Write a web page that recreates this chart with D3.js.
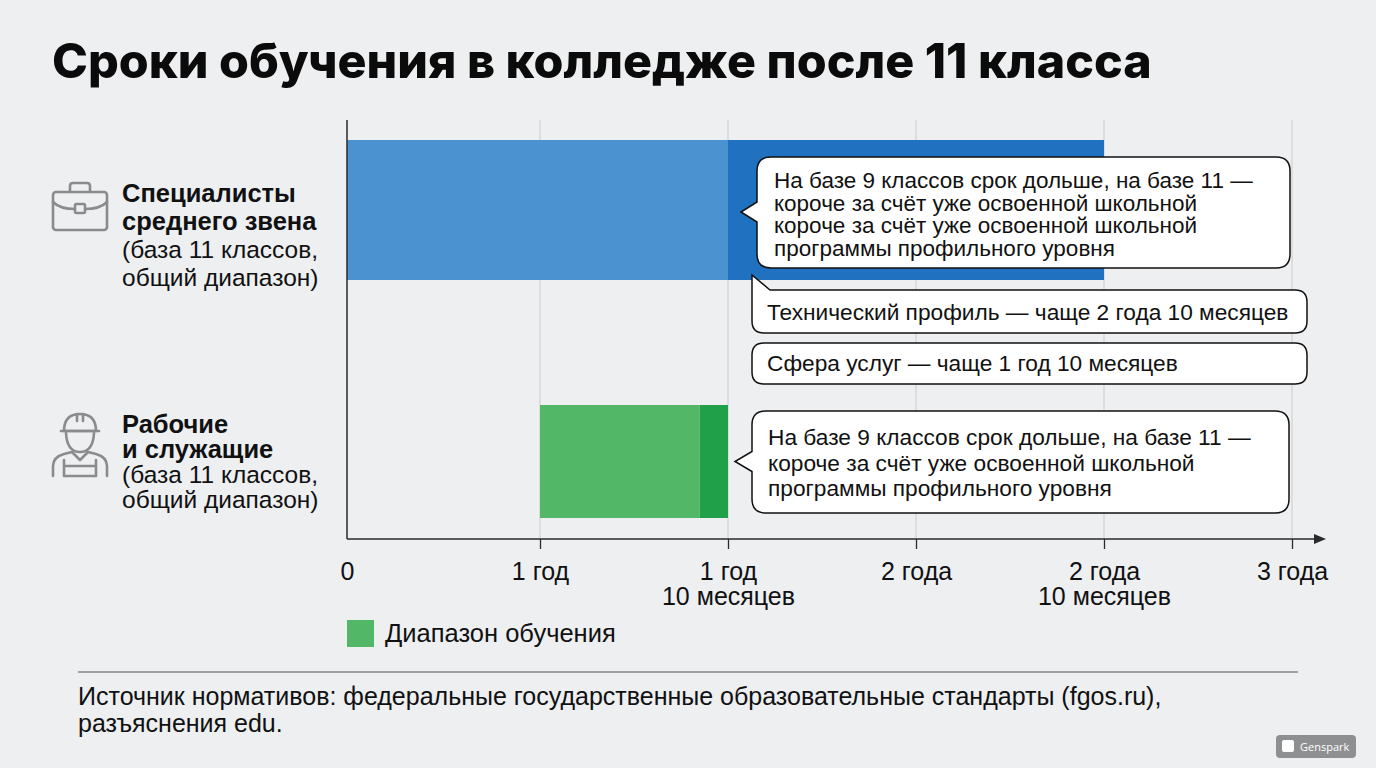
<!DOCTYPE html>
<html>
<head>
<meta charset="utf-8">
<script src="https://cdn.jsdelivr.net/npm/d3@7/dist/d3.min.js"></script>
<style>
  body { margin:0; background:#edeff1; }
  svg { display:block; }
  .body-text { font-family: "Liberation Sans", Arial, sans-serif; fill:#111; }
</style>
</head>
<body>
<svg id="chart"></svg>
<script>
// chart data
var categories = ["Специалисты среднего звена", "Рабочие и служащие"];
var rangeStart = [0, 12];       // months
var rangeEnd = [34, 22];        // months
var accentStart = [22, 20.5];   // darker part of bar starts here
var categoryLines = [
    ["Специалисты", "среднего звена", "(база 11 классов,", "общий диапазон)"],
    ["Рабочие", "и служащие", "(база 11 классов,", "общий диапазон)"]
];
var tickValues = [0, 12, 22, 24, 34, 36];
var tickLabels = [["0"], ["1 год"], ["1 год", "10 месяцев"], ["2 года"], ["2 года", "10 месяцев"], ["3 года"]];
var noteSpecialists = ["На базе 9 классов срок дольше, на базе 11 —",
    "короче за счёт уже освоенной школьной",
    "короче за счёт уже освоенной школьной",
    "программы профильного уровня"];
var noteTech = ["Технический профиль — чаще 2 года 10 месяцев"];
var noteService = ["Сфера услуг — чаще 1 год 10 месяцев"];
var noteWorkers = ["На базе 9 классов срок дольше, на базе 11 —",
    "короче за счёт уже освоенной школьной",
    "программы профильного уровня"];
var legendLabel = "Диапазон обучения";
var titleText = "Сроки обучения в колледже после 11 класса";
var sourceLines = ["Источник нормативов: федеральные государственные образовательные стандарты (fgos.ru),",
    "разъяснения edu."];

// layout
var screen = {width:1376, height:768};
var plot = {left:347, first:540, top:120, bottom:539, step:188};
var colors = {
    light:["#4b92d0", "#52b868"],
    dark:["#2171c1", "#21a04a"],
    grid:"#cfd1d4", axis:"#2a2a2a", icon:"#8a8b8c"
};
var barCenter = [210, 461.5];
var barHeight = [140, 113];

var svg = d3.select("#chart")
    .attr("width", screen.width)
    .attr("height", screen.height);

svg.append("rect")
    .attr("width", screen.width).attr("height", screen.height)
    .attr("fill", "#edeff1");

// title, stretched to the reference width
var title = svg.append("text")
    .attr("x", 52).attr("y", 78)
    .style("font-family", "Inter, 'Open Sans', sans-serif")
    .style("font-weight", 800)
    .style("font-size", "44px")
    .attr("fill", "#0b0b0b")
    .text(titleText);
var tw = title.node().getComputedTextLength();
title.style("font-size", (44 * 1100 / tw) + "px");

// x scale: ticks are evenly spaced although months are not
var xScale = d3.scaleLinear()
    .domain(tickValues)
    .range(tickValues.map(function(d, i) {
        return i === 0 ? plot.left : plot.first + (i - 1) * plot.step;
    }));

// grid lines
svg.append("g").selectAll("line")
    .data(tickValues.slice(1))
    .enter().append("line")
    .attr("x1", function(d) { return xScale(d); })
    .attr("x2", function(d) { return xScale(d); })
    .attr("y1", plot.top)
    .attr("y2", plot.bottom)
    .attr("stroke", colors.grid)
    .attr("stroke-width", 1.2);

// bars: light range + darker accent
var bars = svg.append("g");
categories.forEach(function(c, i) {
    var y0 = barCenter[i] - barHeight[i] / 2;
    bars.append("rect")
        .attr("x", xScale(rangeStart[i]))
        .attr("y", y0)
        .attr("width", xScale(accentStart[i]) - xScale(rangeStart[i]))
        .attr("height", barHeight[i])
        .attr("fill", colors.light[i]);
    bars.append("rect")
        .attr("x", xScale(accentStart[i]))
        .attr("y", y0)
        .attr("width", xScale(rangeEnd[i]) - xScale(accentStart[i]))
        .attr("height", barHeight[i])
        .attr("fill", colors.dark[i]);
});

// y axis line
svg.append("line")
    .attr("x1", plot.left).attr("x2", plot.left)
    .attr("y1", plot.top).attr("y2", plot.bottom)
    .attr("stroke", colors.axis).attr("stroke-width", 1.5);

// x axis
var xAxis = d3.axisBottom(xScale)
    .tickValues(tickValues)
    .tickSize(10)
    .tickSizeOuter(0)
    .tickFormat("");
var axisG = svg.append("g")
    .attr("transform", "translate(0," + plot.bottom + ")")
    .call(xAxis);
axisG.select(".domain").remove();
axisG.selectAll(".tick line")
    .attr("stroke", colors.axis).attr("stroke-width", 1.3)
    .attr("display", function(d) { return d === 0 ? "none" : null; });
axisG.append("line")
    .attr("x1", plot.left).attr("x2", 1318)
    .attr("y1", 0).attr("y2", 0)
    .attr("stroke", colors.axis).attr("stroke-width", 1.5);
axisG.append("path")
    .attr("d", "M1314,-5 L1326,0 L1314,5 Z")
    .attr("fill", colors.axis);

axisG.selectAll(".tick").each(function(d, i) {
    var t = d3.select(this).append("text")
        .attr("class", "body-text")
        .attr("text-anchor", "middle")
        .attr("y", 41)
        .style("font-size", "25px")
        .attr("fill", "#111");
    tickLabels[i].forEach(function(line, k) {
        t.append("tspan").attr("x", 0).attr("dy", k === 0 ? 0 : 25).text(line);
    });
});

// category labels
var labelStarts = [202, 433];
var labelStep = [28, 25];
categories.forEach(function(c, i) {
    var t = svg.append("text")
        .attr("class", "body-text")
        .attr("x", 122).attr("y", labelStarts[i]);
    categoryLines[i].forEach(function(line, k) {
        t.append("tspan")
            .attr("x", 122)
            .attr("dy", k === 0 ? 0 : labelStep[i])
            .style("font-weight", k < 2 ? 700 : 400)
            .style("font-size", k < 2 ? "25.5px" : "24.5px")
            .text(line);
    });
});

// icons
var icons = svg.append("g")
    .attr("fill", "none")
    .attr("stroke", colors.icon)
    .attr("stroke-width", 2.6)
    .attr("stroke-linejoin", "round")
    .attr("stroke-linecap", "round");
// briefcase
icons.append("path").attr("d", "M70,192 L70,186 Q70,183 73,183 L87,183 Q90,183 90,186 L90,192");
icons.append("rect").attr("x", 53).attr("y", 192).attr("width", 54).attr("height", 38).attr("rx", 3);
icons.append("path").attr("d", "M53,202 Q60,209 75,209 M85,209 Q100,209 107,202");
icons.append("rect").attr("x", 75).attr("y", 204).attr("width", 10).attr("height", 9).attr("rx", 1.5);
// worker
icons.append("path").attr("d", "M64,431 Q64,414 80,414 Q96,414 96,431 Z");
icons.append("path").attr("d", "M61,431 L99,431");
icons.append("path").attr("d", "M77,414 L77,421 M83,414 L83,421");
icons.append("path").attr("d", "M66,433 Q67,452 80,452 Q93,452 94,433");
icons.append("path").attr("d", "M53,476 L53,466 Q53,457 64,454 L72,452 L80,460 L88,452 L96,454 Q107,457 107,466 L107,476");
icons.append("path").attr("d", "M64,476 L64,460 M96,476 L96,460 M64,466 L96,466 M64,476 L96,476");

// callouts
function bubble(x, y, w, h, r, tip) {
    var p = "M" + (x + r) + "," + y +
        " L" + (x + w - r) + "," + y + " Q" + (x + w) + "," + y + " " + (x + w) + "," + (y + r) +
        " L" + (x + w) + "," + (y + h - r) + " Q" + (x + w) + "," + (y + h) + " " + (x + w - r) + "," + (y + h) +
        " L" + (x + r) + "," + (y + h) + " Q" + x + "," + (y + h) + " " + x + "," + (y + h - r);
    if (tip) {
        p += " L" + x + "," + (tip.y + 10) + " L" + tip.x + "," + tip.y + " L" + x + "," + (tip.y - 10);
    }
    p += " L" + x + "," + (y + r) + " Q" + x + "," + y + " " + (x + r) + "," + y + " Z";
    return p;
}
function tailBubble(x, y, w, h, r) {
    return "M" + x + "," + (y - 15) + " L" + (x + 18) + "," + y +
        " L" + (x + w - r) + "," + y + " Q" + (x + w) + "," + y + " " + (x + w) + "," + (y + r) +
        " L" + (x + w) + "," + (y + h - r) + " Q" + (x + w) + "," + (y + h) + " " + (x + w - r) + "," + (y + h) +
        " L" + (x + r) + "," + (y + h) + " Q" + x + "," + (y + h) + " " + x + "," + (y + h - r) + " Z";
}
var notes = svg.append("g");
function noteText(lines, x, y, step, size) {
    var t = notes.append("text")
        .attr("class", "body-text")
        .attr("x", x).attr("y", y)
        .style("font-size", size + "px");
    lines.forEach(function(line, k) {
        t.append("tspan").attr("x", x).attr("dy", k === 0 ? 0 : step).text(line);
    });
}
var bx = xScale(22);
notes.append("path")
    .attr("d", bubble(bx + 29, 157, 533, 111, 14, {x:bx + 13, y:barCenter[0] + 2}))
    .attr("fill", "#fff").attr("stroke", "#111").attr("stroke-width", 1.5);
noteText(noteSpecialists, bx + 46, 188, 22.7, 22.5);

notes.append("path")
    .attr("d", tailBubble(bx + 24, 290, 555, 43, 12))
    .attr("fill", "#fff").attr("stroke", "#111").attr("stroke-width", 1.5);
noteText(noteTech, bx + 39, 320, 0, 22.7);

notes.append("path")
    .attr("d", bubble(bx + 24, 343, 555, 41, 12))
    .attr("fill", "#fff").attr("stroke", "#111").attr("stroke-width", 1.5);
noteText(noteService, bx + 39, 371, 0, 22.7);

notes.append("path")
    .attr("d", bubble(bx + 24, 411, 537, 102, 14, {x:bx + 7, y:barCenter[1]}))
    .attr("fill", "#fff").attr("stroke", "#111").attr("stroke-width", 1.5);
noteText(noteWorkers, bx + 40, 445, 25.5, 22.7);

// legend
svg.append("rect")
    .attr("x", 347).attr("y", 620).attr("width", 27).attr("height", 27)
    .attr("fill", colors.light[1]);
svg.append("text")
    .attr("class", "body-text")
    .attr("x", 385).attr("y", 642)
    .style("font-size", "25.5px")
    .text(legendLabel);

// source
svg.append("line")
    .attr("x1", 78).attr("x2", 1298).attr("y1", 672).attr("y2", 672)
    .attr("stroke", "#555").attr("stroke-width", 1.2);
var src = svg.append("text")
    .attr("class", "body-text")
    .attr("x", 78).attr("y", 705)
    .style("font-size", "25px");
sourceLines.forEach(function(line, k) {
    src.append("tspan").attr("x", 78).attr("dy", k === 0 ? 0 : 27).text(line);
});

// watermark
var wm = svg.append("g").attr("transform", "translate(1276,735)");
wm.append("rect").attr("width", 80).attr("height", 23).attr("rx", 4).attr("fill", "#8e8f90");
wm.append("rect").attr("x", 6).attr("y", 5).attr("width", 12).attr("height", 12).attr("rx", 2).attr("fill", "#fff");
wm.append("text")
    .attr("x", 24).attr("y", 16)
    .style("font-family", "'Open Sans', sans-serif")
    .style("font-size", "11px")
    .attr("fill", "#fff")
    .text("Genspark");
</script>
</body>
</html>
